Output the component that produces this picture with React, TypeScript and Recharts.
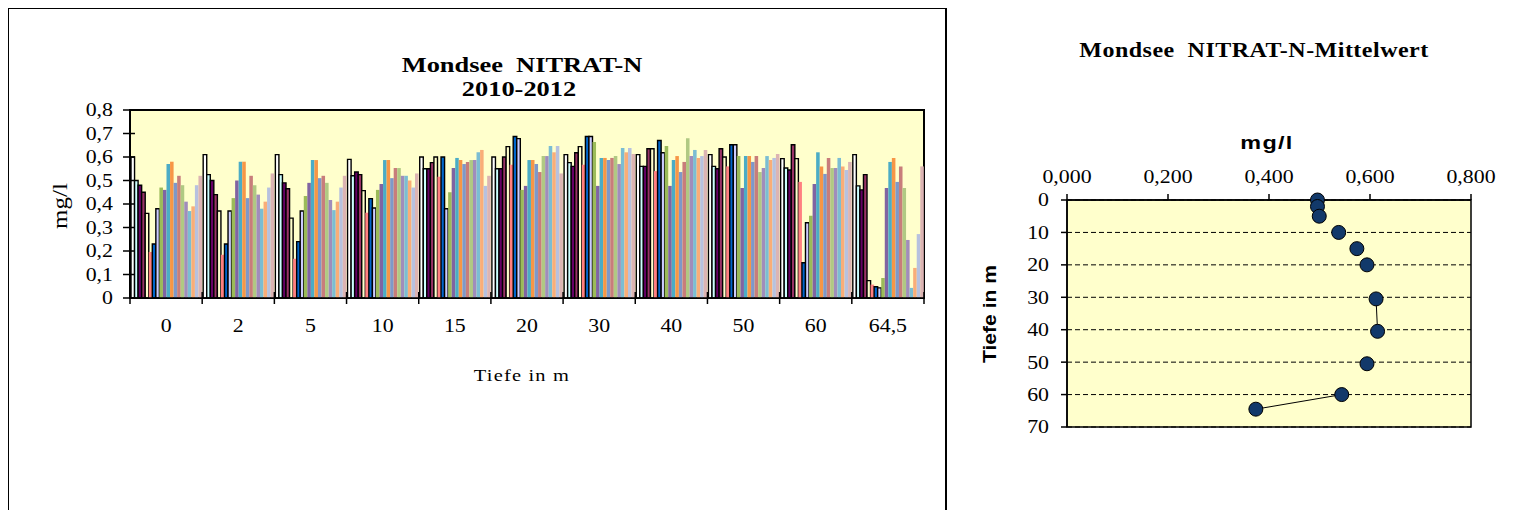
import React from 'react';
import { BarChart, Bar, XAxis, YAxis, CartesianGrid, ReferenceArea, ScatterChart, Scatter, Customized } from 'recharts';

// Tiefenstufen (Kategorien)
const depths = ['0', '2', '5', '10', '15', '20', '30', '40', '50', '60', '64,5'];

// NO3-N in mg/l je Tiefe, 20 Termine 2010-2012
const d0 = [0.6, 0.5, 0.48, 0.45, 0.36, 0.196, 0.23, 0.38, 0.47, 0.46, 0.57, 0.58, 0.49, 0.52, 0.48, 0.41, 0.37, 0.39, 0.48, 0.52];
const d2 = [0.61, 0.525, 0.5, 0.44, 0.37, 0.184, 0.23, 0.37, 0.425, 0.5, 0.58, 0.58, 0.425, 0.52, 0.48, 0.44, 0.38, 0.41, 0.47, 0.53];
const d5 = [0.61, 0.525, 0.49, 0.465, 0.34, 0.167, 0.24, 0.37, 0.434, 0.49, 0.587, 0.587, 0.51, 0.52, 0.49, 0.417, 0.374, 0.41, 0.47, 0.52];
const d10 = [0.59, 0.52, 0.536, 0.525, 0.457, 0.363, 0.423, 0.383, 0.46, 0.485, 0.587, 0.587, 0.51, 0.553, 0.553, 0.52, 0.52, 0.5, 0.47, 0.53];
const d15 = [0.6, 0.55, 0.55, 0.576, 0.6, 0.516, 0.6, 0.38, 0.45, 0.553, 0.596, 0.587, 0.57, 0.579, 0.587, 0.587, 0.62, 0.63, 0.477, 0.52];
const d20 = [0.6, 0.55, 0.55, 0.6, 0.644, 0.567, 0.687, 0.678, 0.46, 0.477, 0.587, 0.587, 0.57, 0.536, 0.604, 0.604, 0.647, 0.62, 0.647, 0.53];
const d30 = [0.61, 0.576, 0.56, 0.618, 0.644, 0.567, 0.687, 0.687, 0.664, 0.477, 0.596, 0.596, 0.587, 0.596, 0.604, 0.57, 0.638, 0.62, 0.638, 0.613];
const d40 = [0.61, 0.56, 0.56, 0.635, 0.635, 0.54, 0.67, 0.618, 0.647, 0.477, 0.587, 0.604, 0.536, 0.579, 0.68, 0.604, 0.63, 0.596, 0.604, 0.63];
const d50 = [0.61, 0.56, 0.55, 0.635, 0.6, 0.56, 0.652, 0.652, 0.604, 0.468, 0.604, 0.604, 0.579, 0.604, 0.536, 0.553, 0.604, 0.587, 0.596, 0.613];
const d60 = [0.593, 0.553, 0.545, 0.652, 0.593, 0.494, 0.15, 0.32, 0.35, 0.485, 0.62, 0.56, 0.528, 0.596, 0.553, 0.553, 0.596, 0.56, 0.545, 0.579];
const d64 = [0.61, 0.477, 0.46, 0.525, 0.074, 0.057, 0.048, 0.043, 0.085, 0.468, 0.579, 0.596, 0.494, 0.56, 0.468, 0.247, 0.043, 0.128, 0.272, 0.56];
const byDepth = [d0, d2, d5, d10, d15, d20, d30, d40, d50, d60, d64];

const valueTicks = [0, 0.1, 0.2, 0.3, 0.4, 0.5, 0.6, 0.7, 0.8];

// Mittelwerte je Tiefe
const meanDepth = [0, 2, 5, 10, 15, 20, 30.5, 40.5, 50.5, 60, 64.5];
const meanValue = [0.496, 0.496, 0.4995, 0.538, 0.574, 0.594, 0.612, 0.615, 0.594, 0.544, 0.374];
const meanTicks = [0, 0.2, 0.4, 0.6, 0.8];
const depthTicks = [0, 10, 20, 30, 40, 50, 60, 70];

// Excel-Farben, die ersten mit schwarzem Rand
const colors = [
  '#FFFFFF', '#CCFFFF', '#660066', '#993366', '#FFFFCC', '#FF8080', '#0066CC', '#CCCCFF',
  '#9BBB59', '#8064A2', '#4BACC6', '#F79646', '#7E98C9', '#C87D7B', '#B0C983', '#A08DBB',
  '#7BBDD3', '#F9AD78', '#B7C1DF', '#DCB4B3',
];
const outlined = [true, true, true, true, true, false, true, true];

const rows = depths.map((depth, i) => {
  const row: any = { depth };
  byDepth[i].forEach((v, j) => (row[`s${j}`] = v));
  return row;
});

const meanPoints = meanDepth.map((depth, i) => ({ depth, value: meanValue[i] }));
const segA = meanPoints.slice(6, 8);
const segB = meanPoints.slice(9, 11);

const serif = '"Liberation Serif", "Times New Roman", serif';
const sans = '"Liberation Sans", Arial, sans-serif';
const comma = (v: number) => String(v).replace('.', ',');

const HALF_BAND = (924 - 130) / 11 / 2;

// Text leicht in die Breite gezogen wie im Excel-Bild
function SText({ x, y, anchor = 'middle', size = 19, sx = 1.15, children }: any) {
  return (
    <text transform={`translate(${x},${y}) scale(${sx},1)`} textAnchor={anchor} dominantBaseline="central" fontFamily={serif} fontSize={size} fill="#000">
      {children}
    </text>
  );
}

function DepthTick(props: any) {
  const { x, y, payload, index } = props;
  const half = payload && payload.offset ? payload.offset : HALF_BAND;
  return (
    <g>
      <line x1={x - half} x2={x - half} y1={y - 6} y2={y + 6} stroke="#000" strokeWidth={1.5} />
      {index === depths.length - 1 && (
        <line x1={x + half} x2={x + half} y1={y - 6} y2={y + 6} stroke="#000" strokeWidth={1.5} />
      )}
      <SText x={x} y={y + 28}>{payload.value}</SText>
    </g>
  );
}

function ValueTick(props: any) {
  const { x, y, payload } = props;
  return (
    <g>
      <line x1={x - 7} x2={x + 5} y1={y} y2={y} stroke="#000" strokeWidth={1.5} />
      <SText x={x - 17} y={y} anchor="end">{comma(payload.value)}</SText>
    </g>
  );
}

function MeanTick(props: any) {
  const { x, y, payload } = props;
  return <SText x={x} y={y - 8} size={19}>{payload.value.toFixed(3).replace('.', ',')}</SText>;
}

function DepthAxisTick(props: any) {
  const { x, y, payload } = props;
  return <SText x={x} y={y} anchor="end" size={19}>{payload.value}</SText>;
}

function Dot(props: any) {
  const { cx, cy } = props;
  return <circle cx={cx} cy={cy} r={7} fill="#12396A" stroke="#000" strokeWidth={1} />;
}

// Rahmen der Diagrammflächen, im SVG des jeweiligen Diagramms
const LeftFrame = () => <polyline points="8,530 8,8 945,8" fill="none" stroke="#000" strokeWidth={2} />;
const RightFrame = () => <rect x={1} y={6} width={584} height={506} fill="none" stroke="#000" strokeWidth={2} />;

function Txt({ x, y, children, style, tf = 'scaleX(1.2)' }: any) {
  return (
    <div style={{ position: 'absolute', left: x, top: y, transform: `translate(-50%, -50%) ${tf}`, whiteSpace: 'pre', color: '#000', lineHeight: 1, ...style }}>
      {children}
    </div>
  );
}

export default function App() {
  return (
    <div style={{ position: 'relative', margin: -8, width: 1535, height: 518, background: '#fff', overflow: 'hidden' }}>
      {/* linkes Diagramm */}
      <div style={{ position: 'absolute', left: 0, top: 0 }}>
        <BarChart width={945} height={518} data={rows} margin={{ top: 110, right: 21, bottom: 180, left: 0 }} barGap={0} barCategoryGap={0} barSize={3.55}>
          <CartesianGrid horizontal={false} vertical={false} fill="#FFFFCC" />
          <XAxis dataKey="depth" height={40} interval={0} tickLine={false} tickSize={0} tickMargin={0} axisLine={{ stroke: '#000', strokeWidth: 1.5 }} tick={(p: any) => <DepthTick {...p} />} />
          <YAxis domain={[0, 0.8]} ticks={valueTicks} width={130} tickLine={false} tickSize={0} tickMargin={0} axisLine={{ stroke: '#000', strokeWidth: 1.5 }} tick={(p: any) => <ValueTick {...p} />} />
          {colors.map((c, i) => (
            <Bar key={i} dataKey={`s${i}`} fill={c} stroke={outlined[i] ? '#000' : 'none'} strokeWidth={outlined[i] ? 1.4 : 0} isAnimationActive={false} />
          ))}
          <ReferenceArea y1={0} y2={0.8} fill="none" stroke="#000" strokeWidth={2} />
          <Customized component={LeftFrame} />
        </BarChart>
      </div>
      <Txt x={522} y={65} style={{ fontFamily: serif, fontWeight: 'bold', fontSize: 22 }}>Mondsee  NITRAT-N</Txt>
      <Txt x={519} y={89} style={{ fontFamily: serif, fontWeight: 'bold', fontSize: 22 }}>2010-2012</Txt>
      <Txt x={60} y={206} tf="rotate(-90deg) scaleX(1.25)" style={{ fontFamily: serif, fontSize: 20 }}>mg/l</Txt>
      <Txt x={522} y={375} style={{ fontFamily: serif, fontSize: 17, letterSpacing: 1 }}>Tiefe in m</Txt>

      {/* rechtes Diagramm */}
      <div style={{ position: 'absolute', left: 945, top: 0, background: '#fff' }}>
        <ScatterChart width={590} height={518} margin={{ top: 170, right: 64, bottom: 91, left: 0 }}>
          <CartesianGrid vertical={false} stroke="#000" strokeDasharray="5 3" fill="#FFFFCC" />
          <XAxis type="number" dataKey="value" orientation="top" domain={[0, 0.8]} ticks={meanTicks} height={30} tickSize={6} tickMargin={9}
            axisLine={{ stroke: '#000', strokeWidth: 1.5 }} tickLine={{ stroke: '#000', strokeWidth: 1.5 }}
            tick={(p: any) => <MeanTick {...p} />} />
          <YAxis type="number" dataKey="depth" reversed domain={[0, 70]} ticks={depthTicks} width={122} tickSize={6} tickMargin={12}
            axisLine={{ stroke: '#000', strokeWidth: 1.5 }} tickLine={{ stroke: '#000', strokeWidth: 1.5 }}
            tick={(p: any) => <DepthAxisTick {...p} />} />
          <ReferenceArea x1={0} x2={0.8} y1={0} y2={70} fill="none" stroke="#000" strokeWidth={1.5} />
          <Scatter data={segA} line={{ stroke: '#000', strokeWidth: 1 }} shape={() => null} isAnimationActive={false} />
          <Scatter data={segB} line={{ stroke: '#000', strokeWidth: 1 }} shape={() => null} isAnimationActive={false} />
          <Scatter data={meanPoints} shape={(p: any) => <Dot {...p} />} isAnimationActive={false} />
          <Customized component={RightFrame} />
        </ScatterChart>
      </div>
      <Txt x={1254} y={50} style={{ fontFamily: serif, fontWeight: 'bold', fontSize: 20, letterSpacing: 0.4 }}>Mondsee  NITRAT-N-Mittelwert</Txt>
      <Txt x={1267} y={143} tf="scaleX(1.3)" style={{ fontFamily: sans, fontWeight: 'bold', fontSize: 18, letterSpacing: 1 }}>mg/l</Txt>
      <Txt x={990} y={314} tf="rotate(-90deg) scaleX(1.17)" style={{ fontFamily: sans, fontWeight: 'bold', fontSize: 18 }}>Tiefe in m</Txt>
    </div>
  );
}
